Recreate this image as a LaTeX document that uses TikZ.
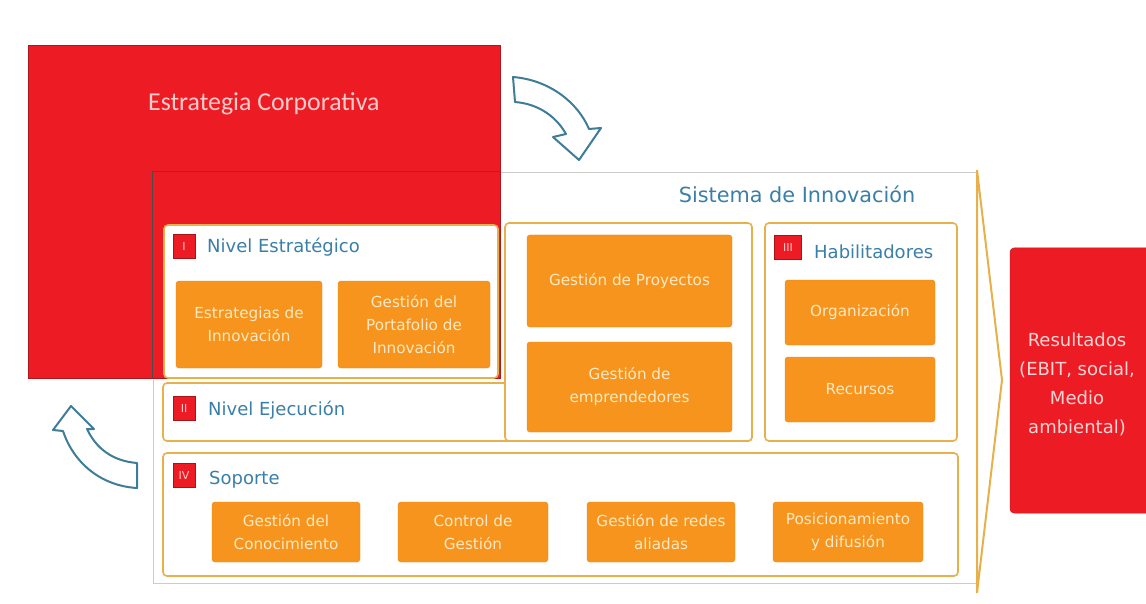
\documentclass[tikz,border=0pt]{standalone}
\usepackage{fontspec}
\setmainfont{DejaVu Sans}
\newfontfamily\carl{Carlito}
\definecolor{redc}{HTML}{ED1C24}
\definecolor{orangec}{HTML}{F7941D}
\definecolor{framec}{HTML}{E8B04B}
\definecolor{bluet}{HTML}{3A7FA8}
\definecolor{arrowc}{HTML}{3E7C98}
\definecolor{boxtext}{HTML}{FDE9C4}
\definecolor{restext}{HTML}{F9D6D6}
\newcommand\mkbox[7]{\node[#2,minimum width={#5-#3},minimum height={#6-#4}] (#1) at ({(#3+#5)/2},{(#4+#6)/2}) {#7};}
\begin{document}
\begin{tikzpicture}[x=1pt,y=-1pt,
 frame/.style={draw=framec, line width=1.6pt, fill=white, rounded corners=4pt, inner sep=0pt},
 obox/.style={fill=orangec, draw=orangec!92!black, line width=0.4pt, rounded corners=3pt, text=boxtext, align=center, font=\fontsize{15.2}{23}\selectfont, inner sep=0pt},
 tagbox/.style={fill=redc, draw=redc!70!black, line width=0.6pt, text=white!80!red, font=\fontsize{11}{11}\selectfont, minimum width=22pt, minimum height=24pt, inner sep=0pt},
 lbl/.style={text=bluet, font=\fontsize{18}{20}\selectfont, anchor=west, inner sep=0pt},
 curved/.style={draw=arrowc, line width=2pt, fill=white, line join=round}]
\useasboundingbox (0,0) rectangle (1146,604);
% Sistema de Innovacion frame
\mkbox{sist}{draw=gray!40, line width=0.8pt, fill=white, inner sep=0pt}{153}{172}{977}{583}{}
% Estrategia corporativa
\mkbox{corp}{fill=redc, draw=redc!75!black, line width=0.8pt, inner sep=0pt}{28}{45}{500}{378}{}
\draw[gray!60!black, line width=0.8pt] (sist.south west |- corp.south) -- (sist.north west) -- (sist.north west -| corp.east);
\node[text=white!80!red, font=\carl\fontsize{25.8}{28}\selectfont, anchor=west, inner sep=0pt] (corpt) at (148,104) {Estrategia Corporativa};
\node[text=bluet, font=\fontsize{20.8}{23}\selectfont, inner sep=0pt] (sistt) at (797,194) {Sistema de Innovación};
% frames
\mkbox{estr}{frame}{164}{225}{498}{378}{}
\mkbox{ejec}{frame}{163}{383}{752}{441}{}
\mkbox{mid}{frame}{505}{223}{752}{441}{}
\mkbox{habil}{frame}{765}{223}{957}{441}{}
\mkbox{sop}{frame}{163}{453}{958}{576}{}
% tags and labels
\node[tagbox] (t1) at (184,246) {I};
\node[lbl] (l1) at (207,247) {Nivel Estratégico};
\node[tagbox] (t2) at (184,408) {II};
\node[lbl] (l2) at (208,410) {Nivel Ejecución};
\node[tagbox, minimum width=27pt] (t3) at (788,247) {III};
\node[lbl] (l3) at (814,252) {Habilitadores};
\node[tagbox] (t4) at (184,475) {IV};
\node[lbl] (l4) at (209,480) {Soporte};
% orange boxes
\mkbox{b1}{obox}{176}{281}{322}{368}{Estrategias de\\Innovación}
\mkbox{b2}{obox}{338}{281}{490}{368}{Gestión del\\Portafolio de\\Innovación}
\mkbox{b3}{obox}{527}{235}{732}{327}{Gestión de Proyectos}
\mkbox{b4}{obox}{527}{342}{732}{432}{Gestión de\\emprendedores}
\mkbox{b5}{obox}{785}{280}{935}{345}{Organización}
\mkbox{b6}{obox}{785}{357}{935}{422}{Recursos}
\mkbox{b7}{obox}{212}{502}{360}{562}{Gestión del\\Conocimiento}
\mkbox{b8}{obox}{398}{502}{548}{562}{Control de\\Gestión}
\mkbox{b9}{obox}{587}{502}{735}{562}{Gestión de redes\\aliadas}
\mkbox{b10}{obox}{773}{502}{923}{562}{Posicionamiento\\y difusión}
% chevron
\draw[draw=framec, line width=2pt, fill=white, line join=miter] (977,170) -- (1002,380) -- (977,593) -- cycle;
% resultados
\mkbox{res}{fill=redc, draw=redc!85!black, line width=0.5pt, rounded corners=4pt, inner sep=0pt}{1010}{248}{1170}{513}{}
\node[text=restext, align=center, font=\fontsize{18}{29}\selectfont, inner sep=0pt] (rest) at (1077,384) {Resultados\\(EBIT, social,\\Medio\\ambiental)};
% curved arrows
\draw[curved] (513,77) .. controls (550,80) and (578,103) .. (589,129) -- (601,128) -- (579,160) -- (553,137) -- (566,134) .. controls (557,118) and (540,104) .. (515,102) -- cycle;
\draw[curved] (71,406) -- (94,429) -- (87,429) .. controls (96,448) and (112,461) .. (137,463) -- (137,488) .. controls (102,486) and (74,464) .. (63,431) -- (53,430) -- cycle;
\end{tikzpicture}
\end{document}
